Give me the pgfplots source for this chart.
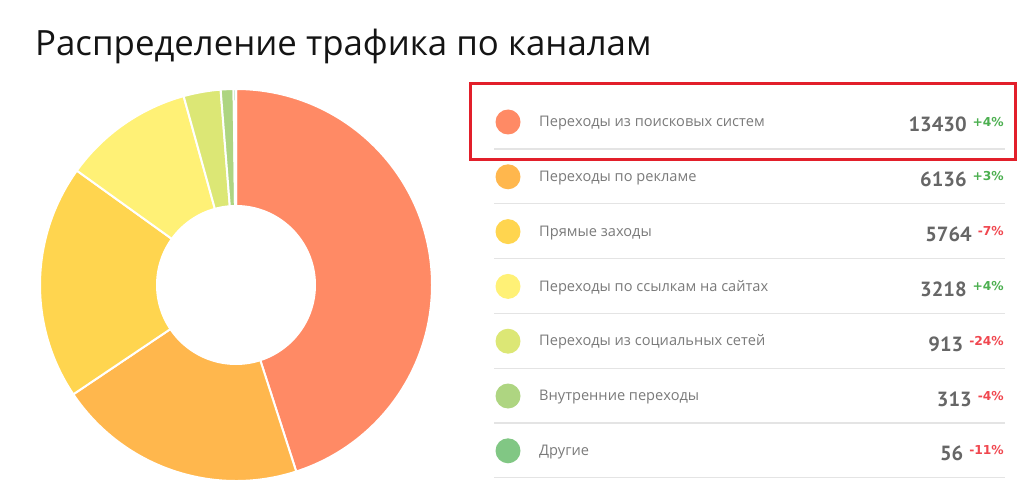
\documentclass[border=0pt]{standalone}
\usepackage{pgfplots}
\pgfplotsset{compat=1.18}
\usepackage{pgfplotstable}
\usepackage{fontspec}
\setmainfont{PT Sans}
\newfontfamily\opensans{Open Sans}
\newfontfamily\dejavu{DejaVu Sans}
\definecolor{c0}{HTML}{FF8A65}
\definecolor{c1}{HTML}{FFB74D}
\definecolor{c2}{HTML}{FFD54F}
\definecolor{c3}{HTML}{FFF176}
\definecolor{c4}{HTML}{DCE775}
\definecolor{c5}{HTML}{AED581}
\definecolor{c6}{HTML}{81C784}
\definecolor{labelgray}{HTML}{7A7A7A}
\definecolor{numgray}{HTML}{666666}
\definecolor{upgreen}{HTML}{4CAF50}
\definecolor{downred}{HTML}{F0474F}
\definecolor{boxred}{HTML}{E21F2A}
\definecolor{sepgray}{HTML}{E4E4E4}

\pgfplotstableread[col sep=semicolon,row sep=\\]{
name;value;change\\
Переходы из поисковых систем;13430;+4\\
Переходы по рекламе;6136;+3\\
Прямые заходы;5764;-7\\
Переходы по ссылкам на сайтах;3218;+4\\
Переходы из социальных сетей;913;-24\\
Внутренние переходы;313;-4\\
Другие;56;-11\\
}\chan

\begin{document}
\begin{tikzpicture}
% totals (integer arithmetic)
\gdef\cum{0}
\foreach \i in {0,...,6}{%
  \pgfplotstablegetelem{\i}{value}\of\chan
  \xdef\cum{\the\numexpr\cum+\pgfplotsretval\relax}%
}
\xdef\total{\cum}
\gdef\cum{0}
\foreach \i in {0,...,6}{%
  \pgfplotstablegetelem{\i}{value}\of\chan
  \global\expandafter\let\csname vl\i\endcsname\pgfplotsretval
  \edef\ra{\the\numexpr 3600*\cum/\total\relax}%
  \pgfmathsetmacro\a{90-\ra/10}%
  \xdef\cum{\the\numexpr\cum+\pgfplotsretval\relax}%
  \edef\rb{\the\numexpr 3600*\cum/\total\relax}%
  \pgfmathsetmacro\b{90-\rb/10}%
  \expandafter\xdef\csname sa\i\endcsname{\a}%
  \expandafter\xdef\csname sb\i\endcsname{\b}%
  \pgfplotstablegetelem{\i}{name}\of\chan
  \global\expandafter\let\csname nm\i\endcsname\pgfplotsretval
  \pgfplotstablegetelem{\i}{change}\of\chan
  \global\expandafter\let\csname ch\i\endcsname\pgfplotsretval
  \ifdim\pgfplotsretval pt>0pt
    \expandafter\xdef\csname cc\i\endcsname{upgreen}%
  \else
    \expandafter\xdef\csname cc\i\endcsname{downred}%
  \fi
}
\begin{axis}[
  width=1024pt, height=499pt, scale only axis,
  xmin=0, xmax=1024, ymin=0, ymax=499, y dir=reverse,
  hide axis, clip=false]
\path (axis cs:0,0) rectangle (axis cs:1024,499);
% title
\node[anchor=base west, inner sep=0pt, text=black!92,
  font=\opensans\fontsize{34.8}{40}\selectfont] at (axis cs:35,56)
  {Распределение трафика по каналам};
% donut
\pgfplotsinvokeforeach{0,...,6}{
  \fill[c#1, draw=white, line width=2pt, line join=round]
    (axis cs:236,285) -- ++(\csname sa#1\endcsname:196pt)
    arc[start angle=\csname sa#1\endcsname, end angle=\csname sb#1\endcsname, radius=196pt] -- cycle;
}
\fill[white] (axis cs:236,285) circle[radius=80pt];
% legend
\pgfplotsinvokeforeach{0,...,6}{
  \fill[c#1] (axis cs:508,{122+54.8*#1}) circle[radius=12.5pt];
  \node[anchor=west, inner sep=0pt, text=labelgray,
    font=\opensans\fontsize{14.6}{18}\selectfont] at (axis cs:539,{123+54.8*#1})
    {\csname nm#1\endcsname};
  \node[anchor=base east, inner sep=0pt] at (axis cs:1004,{132+54.8*#1})
    {\fontsize{20.5}{22}\selectfont\bfseries\color{numgray}\csname vl#1\endcsname\hspace{6pt}%
     \raisebox{6pt}{\dejavu\fontsize{12.3}{14}\selectfont\bfseries\color{\csname cc#1\endcsname}\csname ch#1\endcsname\%}};
  \draw[sepgray, line width=1.3pt] (axis cs:494,{149+54.8*#1}) -- (axis cs:1005,{149+54.8*#1});
}
% highlight box
\draw[boxred, line width=3pt] (axis cs:470,84) rectangle (axis cs:1015,160);
\end{axis}
\end{tikzpicture}
\end{document}
